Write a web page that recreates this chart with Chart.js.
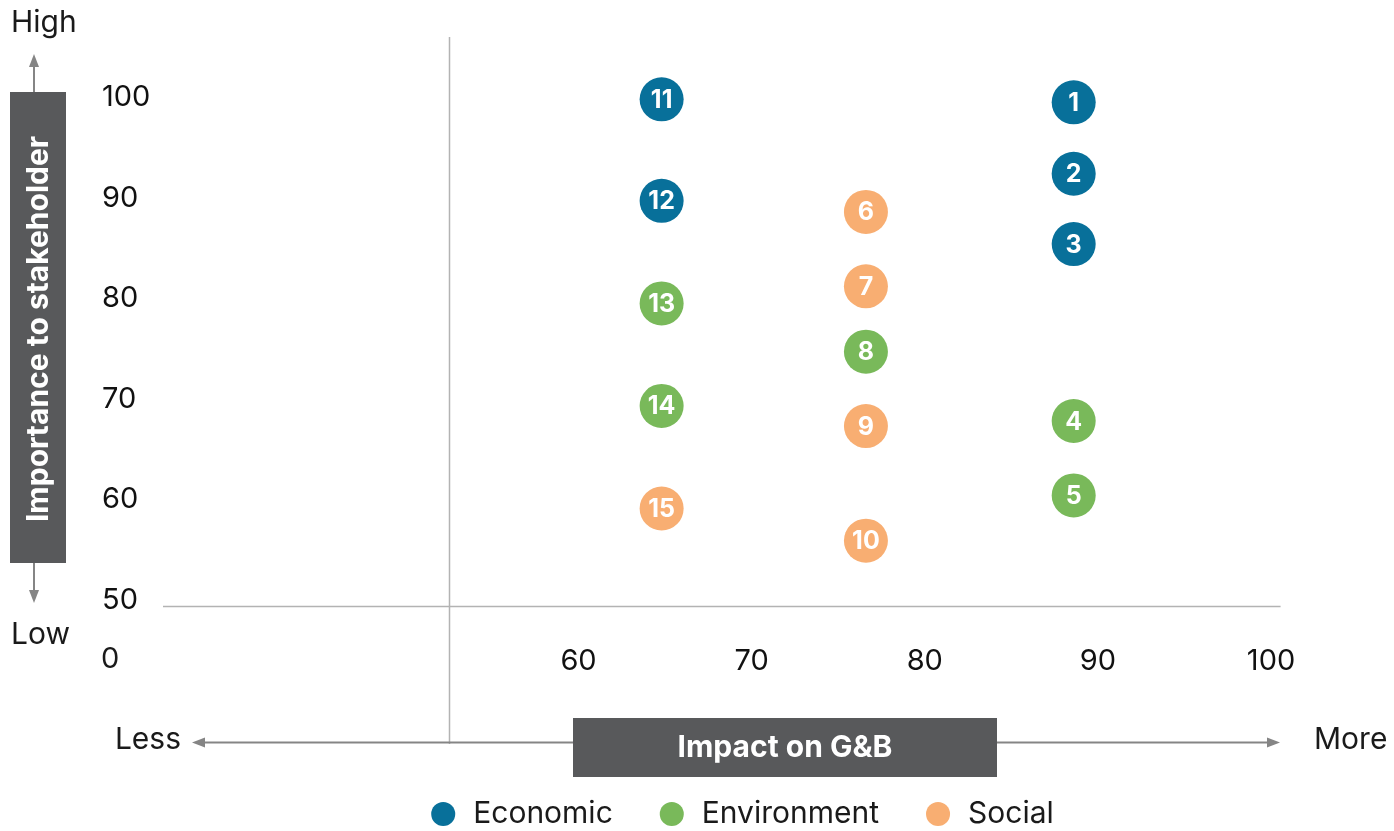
<!DOCTYPE html>
<html>
<head>
<meta charset="utf-8">
<script src="https://cdn.jsdelivr.net/npm/chart.js@4.4.0/dist/chart.umd.min.js"></script>
<style>
  html, body { margin: 0; padding: 0; background: #fff; }
</style>
</head>
<body>
<canvas id="matrix" width="1394" height="831"></canvas>
<script>
// datos de la matriz de materialidad
const seriesNames = ['Economic', 'Environment', 'Social'];
const seriesColors = ['#08709a', '#79b95a', '#f8ae72'];

const economicIds = [1, 2, 3, 11, 12];
const economicX = [88.6, 88.6, 88.6, 64.8, 64.8];
const economicY = [99.5, 92.4, 85.4, 99.8, 89.7];

const environmentIds = [4, 5, 8, 13, 14];
const environmentX = [88.6, 88.6, 76.6, 64.8, 64.8];
const environmentY = [67.8, 60.4, 74.7, 79.5, 69.3];

const socialIds = [6, 7, 9, 10, 15];
const socialX = [76.6, 76.6, 76.6, 76.6, 64.8];
const socialY = [88.6, 81.2, 67.3, 55.9, 59.1];

const xTicks = [60, 70, 80, 90, 100];
const yTicks = [50, 60, 70, 80, 90, 100];

const FONT = 'Inter, "Liberation Sans", Arial, sans-serif';
const GREY_BOX = '#58595b';
const ARROW = '#858585';

const toPoints = (xs, ys) => xs.map((x, i) => ({ x: x, y: ys[i] }));
const allIds = [economicIds, environmentIds, socialIds];

function arrowHead(ctx, x, y, dir) {
    // dir: 'up', 'down', 'left', 'right'
    ctx.beginPath();
    if (dir === 'up') { ctx.moveTo(x, y); ctx.lineTo(x - 5, y + 13); ctx.lineTo(x + 5, y + 13); }
    if (dir === 'down') { ctx.moveTo(x, y); ctx.lineTo(x - 5, y - 13); ctx.lineTo(x + 5, y - 13); }
    if (dir === 'left') { ctx.moveTo(x, y); ctx.lineTo(x + 13, y - 5); ctx.lineTo(x + 13, y + 5); }
    if (dir === 'right') { ctx.moveTo(x, y); ctx.lineTo(x - 13, y - 5); ctx.lineTo(x - 13, y + 5); }
    ctx.closePath();
    ctx.fill();
}

// líneas, cajas de título y flechas
const decorPlugin = {
    id: 'decor',
    beforeDatasetsDraw(chart) {
        const ctx = chart.ctx;
        const area = chart.chartArea;
        const xs = chart.scales.x;
        ctx.save();
        ctx.strokeStyle = '#b3b3b3';
        ctx.lineWidth = 1.5;
        const vx = Math.round(xs.getPixelForValue(52.5)) + 0.5;
        ctx.beginPath();
        ctx.moveTo(vx, area.top);
        ctx.lineTo(vx, 744);
        ctx.stroke();
        ctx.beginPath();
        ctx.moveTo(area.left, area.bottom + 0.5);
        ctx.lineTo(xs.getPixelForValue(100.55), area.bottom + 0.5);
        ctx.stroke();
        ctx.restore();
    },
    afterDraw(chart) {
        const ctx = chart.ctx;
        ctx.save();

        // eje Y: caja vertical
        ctx.fillStyle = GREY_BOX;
        ctx.fillRect(10, 92, 56, 471);
        ctx.save();
        ctx.translate(38, 329);
        ctx.rotate(-Math.PI / 2);
        ctx.fillStyle = '#ffffff';
        ctx.font = 'bold 30px ' + FONT;
        ctx.textAlign = 'center';
        ctx.textBaseline = 'middle';
        ctx.fillText('Importance to stakeholder', 0, 1);
        ctx.restore();

        // flechas verticales
        ctx.strokeStyle = ARROW;
        ctx.fillStyle = ARROW;
        ctx.lineWidth = 2;
        ctx.beginPath();
        ctx.moveTo(34, 92); ctx.lineTo(34, 64);
        ctx.moveTo(34, 563); ctx.lineTo(34, 592);
        ctx.stroke();
        arrowHead(ctx, 34, 54, 'up');
        arrowHead(ctx, 34, 603, 'down');

        // eje X: flecha horizontal
        ctx.beginPath();
        ctx.moveTo(203, 742.5); ctx.lineTo(1268, 742.5);
        ctx.stroke();
        arrowHead(ctx, 192, 742.5, 'left');
        arrowHead(ctx, 1280, 742.5, 'right');

        ctx.fillStyle = GREY_BOX;
        ctx.fillRect(573, 718, 424, 59);
        ctx.fillStyle = '#ffffff';
        ctx.font = 'bold 30px ' + FONT;
        ctx.textAlign = 'center';
        ctx.textBaseline = 'middle';
        ctx.fillText('Impact on G&B', 785, 748);

        // textos de los extremos
        ctx.fillStyle = '#1a1a1a';
        ctx.font = '30px ' + FONT;
        ctx.textAlign = 'left';
        ctx.fillText('High', 11, 23);
        ctx.fillText('Low', 11, 635);
        ctx.fillText('More', 1314, 740);
        ctx.textAlign = 'right';
        ctx.fillText('Less', 181, 740);
        ctx.font = '29px ' + FONT;
        ctx.textAlign = 'left';
        ctx.fillText('0', 101, 659);

        ctx.restore();
    }
};

// números dentro de cada círculo
const numberPlugin = {
    id: 'numbers',
    afterDatasetsDraw(chart) {
        const ctx = chart.ctx;
        ctx.save();
        ctx.fillStyle = '#ffffff';
        ctx.font = 'bold 25px ' + FONT;
        ctx.textAlign = 'center';
        ctx.textBaseline = 'middle';
        chart.data.datasets.forEach((ds, d) => {
            chart.getDatasetMeta(d).data.forEach((pt, i) => {
                ctx.fillText(String(allIds[d][i]), pt.x, pt.y + 1);
            });
        });
        ctx.restore();
    }
};

const makeDataset = (i, xs, ys) => ({
    label: seriesNames[i],
    data: toPoints(xs, ys),
    backgroundColor: seriesColors[i],
    borderColor: seriesColors[i],
    borderWidth: 0,
    pointRadius: 22,
    pointHoverRadius: 22,
    pointStyle: 'circle'
});

new Chart(document.getElementById('matrix'), {
    type: 'scatter',
    data: {
        datasets: [
            makeDataset(0, economicX, economicY),
            makeDataset(1, environmentX, environmentY),
            makeDataset(2, socialX, socialY)
        ]
    },
    options: {
        responsive: false,
        animation: false,
        events: [],
        layout: { padding: { top: 37, left: 102, right: 14, bottom: -8 } },
        scales: {
            x: {
                type: 'linear',
                min: 36,
                max: 105.83,
                afterBuildTicks: (scale) => { scale.ticks = xTicks.map(v => ({ value: v })); },
                afterFit: (scale) => { scale.height = 149; },
                grid: { display: false, drawTicks: false },
                border: { display: false },
                ticks: {
                    padding: 38,
                    color: '#111',
                    font: { family: FONT, size: 29 },
                    maxRotation: 0
                }
            },
            y: {
                type: 'linear',
                min: 49.4,
                max: 106,
                afterBuildTicks: (scale) => { scale.ticks = yTicks.map(v => ({ value: v })); },
                afterFit: (scale) => { scale.width = 61; },
                grid: { display: false, drawTicks: false },
                border: { display: false },
                ticks: {
                    crossAlign: 'far',
                    color: '#111',
                    font: { family: FONT, size: 29 }
                }
            }
        },
        plugins: {
            tooltip: { enabled: false },
            legend: {
                position: 'bottom',
                labels: {
                    usePointStyle: true,
                    pointStyle: 'circle',
                    boxHeight: 17,
                    padding: 44,
                    color: '#1a1a1a',
                    font: { family: FONT, size: 30 }
                }
            }
        }
    },
    plugins: [decorPlugin, numberPlugin]
});
</script>
</body>
</html>
